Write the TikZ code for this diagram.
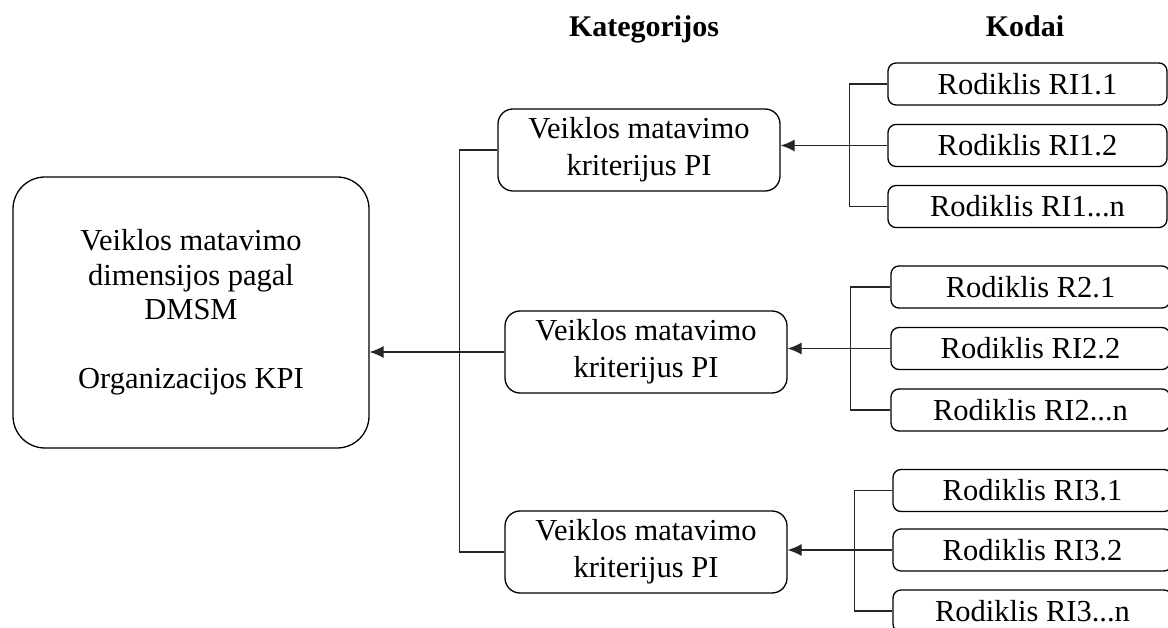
\documentclass[tikz,border=0pt]{standalone}
\usepackage{fontspec}
\setmainfont{Liberation Serif}
\usetikzlibrary{arrows.meta}
\begin{document}
\begin{tikzpicture}[x=1pt,y=-1pt,
  txt/.style={font=\fontsize{30.5}{34.5}\selectfont, align=center, inner sep=0pt},
  bigbox/.style={txt, draw, line width=1.3pt, rounded corners=32pt,
    minimum width=356pt, minimum height=271pt},
  catbox/.style={txt, draw, line width=1.3pt, rounded corners=15pt,
    minimum width=282pt, minimum height=82pt,
    font=\fontsize{30.5}{37}\selectfont},
  codebox/.style={txt, draw, line width=1.3pt, rounded corners=8pt,
    minimum width=279pt, minimum height=42pt},
  hdr/.style={font=\fontsize{30}{34}\selectfont\bfseries, inner sep=0pt, anchor=base},
  link/.style={draw=black!85, line width=1.2pt},
  arrowlink/.style={link, -{Latex[length=14pt,width=12pt]}}
]
\useasboundingbox (0,0) rectangle (1168,628);

% column headings
\node[hdr] (hcat) at (644,37) {Kategorijos};
\node[hdr] (hcode) at (1025,37) {Kodai};

% organisation level
\node[bigbox] (dim) at (191,312.5)
  {Veiklos matavimo\\dimensijos pagal\\DMSM\\[34.5pt]Organizacijos KPI};

% categories
\node[catbox] (pi1) at (639,150) {Veiklos matavimo\\kriterijus PI};
\node[catbox] (pi2) at (646,352) {Veiklos matavimo\\kriterijus PI};
\node[catbox] (pi3) at (646,552) {Veiklos matavimo\\kriterijus PI};

% codes, group 1
\node[codebox] (r11) at (1027.5,84)    {Rodiklis RI1.1};
\node[codebox] (r12) at (1027.5,145.5) {Rodiklis RI1.2};
\node[codebox] (r1n) at (1027.5,206.5) {Rodiklis RI1...n};
% codes, group 2
\node[codebox] (r21) at (1030.5,287)   {Rodiklis R2.1};
\node[codebox] (r22) at (1030.5,348.5) {Rodiklis RI2.2};
\node[codebox] (r2n) at (1030.5,410)   {Rodiklis RI2...n};
% codes, group 3
\node[codebox] (r31) at (1032.5,490.5) {Rodiklis RI3.1};
\node[codebox] (r32) at (1032.5,550)   {Rodiklis RI3.2};
\node[codebox] (r3n) at (1032.5,611)   {Rodiklis RI3...n};

% category bus and link to the organisation box
\draw[link] (pi1.west) -- ++(-38,0) |- (pi3.west);
\draw[arrowlink] (pi2.west) -- (pi2.west -| dim.east);

% code buses and links to categories
\draw[link] (r11.west) -- ++(-38,0) |- (r1n.west);
\draw[arrowlink] (r12.west) -- (r12.west -| pi1.east);
\draw[link] (r21.west) -- ++(-40,0) |- (r2n.west);
\draw[arrowlink] (r22.west) -- (r22.west -| pi2.east);
\draw[link] (r31.west) -- ++(-38,0) |- (r3n.west);
\draw[arrowlink] (r32.west) -- (r32.west -| pi3.east);
\end{tikzpicture}
\end{document}
